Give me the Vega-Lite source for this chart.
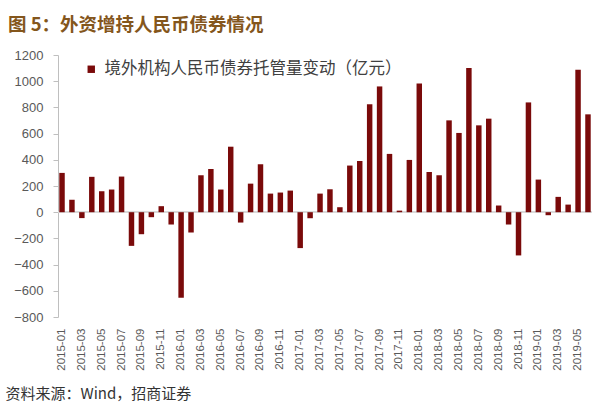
{
  "$schema": "https://vega.github.io/schema/vega-lite/v6.json",
  "autosize": "none",
  "width": 534,
  "height": 262,
  "padding": {"left": 58, "top": 55, "right": 8, "bottom": 90},
  "background": "white",
  "config": {"view": {"stroke": null}, "font": "Liberation Sans"},
  "title": {
    "text": "图 5：外资增持人民币债券情况",
    "anchor": "start",
    "frame": "group",
    "dx": -50,
    "offset": 15,
    "font": "Noto Sans CJK SC",
    "fontSize": 18.5,
    "fontWeight": "bold",
    "color": "#84561c"
  },
  "data": {
    "values": [
      {"month": "2015-01", "value": 300}, {"month": "2015-02", "value": 95}, {"month": "2015-03", "value": -45},
      {"month": "2015-04", "value": 270}, {"month": "2015-05", "value": 160}, {"month": "2015-06", "value": 173},
      {"month": "2015-07", "value": 272}, {"month": "2015-08", "value": -257}, {"month": "2015-09", "value": -168},
      {"month": "2015-10", "value": -38}, {"month": "2015-11", "value": 46}, {"month": "2015-12", "value": -94},
      {"month": "2016-01", "value": -653}, {"month": "2016-02", "value": -155}, {"month": "2016-03", "value": 282},
      {"month": "2016-04", "value": 330}, {"month": "2016-05", "value": 173}, {"month": "2016-06", "value": 500},
      {"month": "2016-07", "value": -79}, {"month": "2016-08", "value": 218}, {"month": "2016-09", "value": 366},
      {"month": "2016-10", "value": 142}, {"month": "2016-11", "value": 150}, {"month": "2016-12", "value": 165},
      {"month": "2017-01", "value": -274}, {"month": "2017-02", "value": -46}, {"month": "2017-03", "value": 142},
      {"month": "2017-04", "value": 175}, {"month": "2017-05", "value": 38}, {"month": "2017-06", "value": 356},
      {"month": "2017-07", "value": 391}, {"month": "2017-08", "value": 824}, {"month": "2017-09", "value": 960},
      {"month": "2017-10", "value": 445}, {"month": "2017-11", "value": 12}, {"month": "2017-12", "value": 399},
      {"month": "2018-01", "value": 983}, {"month": "2018-02", "value": 307}, {"month": "2018-03", "value": 282},
      {"month": "2018-04", "value": 701}, {"month": "2018-05", "value": 605}, {"month": "2018-06", "value": 1100},
      {"month": "2018-07", "value": 663}, {"month": "2018-08", "value": 714}, {"month": "2018-09", "value": 51},
      {"month": "2018-10", "value": -94}, {"month": "2018-11", "value": -330}, {"month": "2018-12", "value": 838},
      {"month": "2019-01", "value": 249}, {"month": "2019-02", "value": -23}, {"month": "2019-03", "value": 117},
      {"month": "2019-04", "value": 58}, {"month": "2019-05", "value": 1087}, {"month": "2019-06", "value": 747}
    ]
  },
  "layer": [
    {
      "mark": {"type": "rule", "color": "#d9d9d9", "strokeWidth": 1},
      "encoding": {"y": {"datum": 0, "type": "quantitative"}}
    },
    {
      "mark": {"type": "bar"},
      "encoding": {
        "x": {
          "field": "month",
          "type": "ordinal",
          "scale": {"paddingInner": 0.45, "paddingOuter": 0.13},
          "axis": {
            "labelExpr": "(toNumber(slice(datum.value, 5)) % 2 == 1) ? datum.value : ''",
            "labelAngle": -90,
            "labelAlign": "right",
            "labelBaseline": "middle",
            "labelPadding": 11,
            "labelFontSize": 11.5,
            "labelColor": "#595959",
            "labelOverlap": false,
            "domain": false,
            "ticks": false,
            "title": "资料来源：Wind，招商证券",
            "titleFont": "Noto Sans CJK SC",
            "titleFontSize": 15,
            "titleFontWeight": "normal",
            "titleColor": "#333333",
            "titleAnchor": "start",
            "titleAlign": "left",
            "titleBaseline": "middle",
            "titleX": -53,
            "titleY": 76
          }
        },
        "y": {
          "field": "value",
          "type": "quantitative",
          "scale": {"domain": [-800, 1200], "nice": false},
          "axis": {
            "tickCount": 10,
            "tickMinStep": 200,
            "format": "d",
            "labelOverlap": false,
            "labelFontSize": 13,
            "grid": false,
            "domainColor": "#bfbfbf",
            "tickColor": "#bfbfbf",
            "tickSize": 5,
            "labelPadding": 10,
            "labelColor": "#595959",
            "title": null
          }
        },
        "color": {
          "datum": "境外机构人民币债券托管量变动（亿元）",
          "type": "nominal",
          "scale": {"range": ["#7a0a0a"]},
          "legend": {
            "orient": "none",
            "legendX": 25,
            "legendY": 6,
            "title": null,
            "padding": 0,
            "symbolType": "square",
            "symbolSize": 55,
            "labelFont": "Noto Sans CJK SC",
            "labelFontSize": 16.5,
            "labelLimit": 0,
            "labelColor": "#404040",
            "labelOffset": 5
          }
        }
      }
    }
  ]
}
